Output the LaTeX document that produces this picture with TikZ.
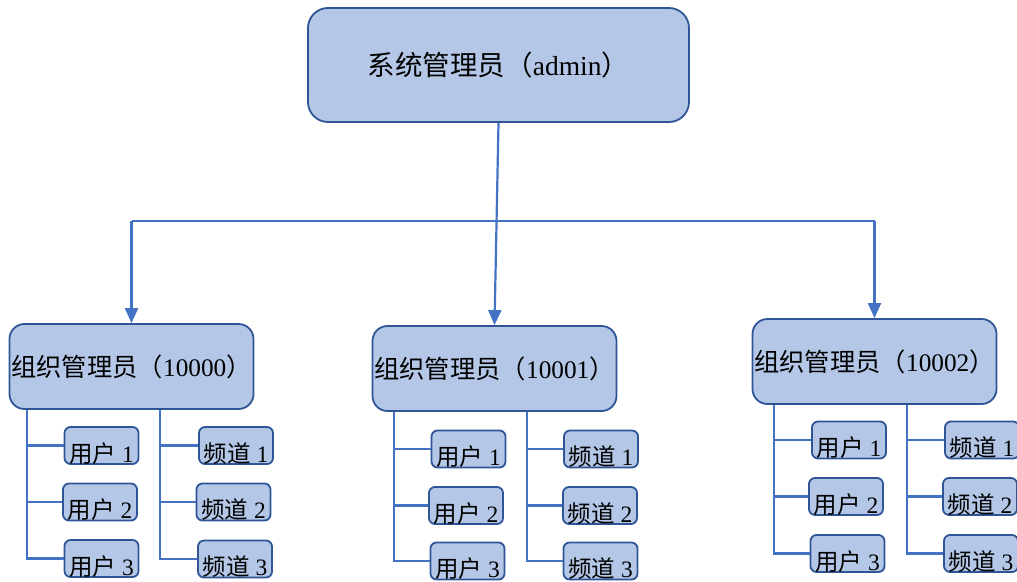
\documentclass[tikz,border=0pt]{standalone}
\usepackage{fontspec}
\setmainfont{Liberation Serif}
\newfontfamily\cjk{Noto Sans CJK SC}
\usetikzlibrary{arrows.meta,calc}
\definecolor{boxfill}{HTML}{B4C7E7}
\definecolor{boxline}{HTML}{2F5597}
\definecolor{connblue}{HTML}{4472C4}
\tikzset{
  topbox/.style={draw=boxline, fill=boxfill, line width=1.8pt, rounded corners=20pt, inner sep=0pt,
    minimum width=381pt, minimum height=114pt, font=\fontsize{27.5}{31}\selectfont},
  orgbox/.style={draw=boxline, fill=boxfill, line width=1.8pt, rounded corners=15pt, inner sep=0pt,
    minimum width=244pt, minimum height=85pt, font=\fontsize{25.3}{30}\selectfont},
  subbox/.style={draw=boxline, fill=boxfill, line width=1.8pt, rounded corners=6pt, inner sep=0pt,
    minimum width=74pt, minimum height=37pt, text height=34pt, text depth=1pt,
    font=\fontsize{23.5}{27}\selectfont},
  conn/.style={draw=connblue, line width=2.2pt},
  arr/.style={conn, -{Triangle[width=13pt,length=15pt]}, fill=connblue}
}
\newcommand{\usr}[1]{{\cjk 用户}\hspace{0.25em}#1}
\newcommand{\chn}[1]{{\cjk 频道}\hspace{0.25em}#1}
\newcommand{\orgtxt}[1]{{\cjk 组织管理员（}#1{\cjk ）}}
\begin{document}
\begin{tikzpicture}[x=1pt,y=-1pt]
\useasboundingbox (0,0) rectangle (1017,581);
\fill[white] (0,0) rectangle (1017,581);

\node[topbox] (top) at (498.5,65) {{\cjk 系统管理员（}admin{\cjk ）}};

\node[orgbox] (o1) at (131.5,366.5) {\orgtxt{10000}};
\node[orgbox] (o2) at (494.5,368.5) {\orgtxt{10001}};
\node[orgbox] (o3) at (874.5,361.5) {\orgtxt{10002}};

\coordinate (bus) at (0,221);
\draw[conn] (o1.north |- bus) -- (o3.north |- bus);
\draw[arr] (top.south) -- (o2.north);
\draw[arr] (o1.north |- bus) -- (o1.north);
\draw[arr] (o3.north |- bus) -- (o3.north);

% group 1
\node[subbox] (u11) at (101.5,445.5) {\usr{1}};
\node[subbox] (u12) at (100,502) {\usr{2}};
\node[subbox] (u13) at (101.5,558.5) {\usr{3}};
\node[subbox] (c11) at (236,445.5) {\chn{1}};
\node[subbox] (c12) at (233.5,502) {\chn{2}};
\node[subbox] (c13) at (235,559) {\chn{3}};
\coordinate (t1L) at (27,0);
\coordinate (t1R) at (160,0);
\draw[conn] (o1.south -| t1L) |- (u13.west);
\draw[conn] (u11.west -| t1L) -- (u11.west);
\draw[conn] (u12.west -| t1L) -- (u12.west);
\draw[conn] (o1.south -| t1R) |- (c13.west);
\draw[conn] (c11.west -| t1R) -- (c11.west);
\draw[conn] (c12.west -| t1R) -- (c12.west);

% group 2
\node[subbox] (u21) at (468.5,449) {\usr{1}};
\node[subbox] (u22) at (466,505.5) {\usr{2}};
\node[subbox] (u23) at (467.5,561) {\usr{3}};
\node[subbox] (c21) at (601,449) {\chn{1}};
\node[subbox] (c22) at (600,505.5) {\chn{2}};
\node[subbox] (c23) at (600.5,561) {\chn{3}};
\coordinate (t2L) at (394,0);
\coordinate (t2R) at (527,0);
\draw[conn] (o2.south -| t2L) |- (u23.west);
\draw[conn] (u21.west -| t2L) -- (u21.west);
\draw[conn] (u22.west -| t2L) -- (u22.west);
\draw[conn] (o2.south -| t2R) |- (c23.west);
\draw[conn] (c21.west -| t2R) -- (c21.west);
\draw[conn] (c22.west -| t2R) -- (c22.west);

% group 3
\node[subbox] (u31) at (849,440) {\usr{1}};
\node[subbox] (u32) at (846,496.5) {\usr{2}};
\node[subbox] (u33) at (847.5,553.5) {\usr{3}};
\node[subbox] (c31) at (982,440) {\chn{1}};
\node[subbox] (c32) at (980,496.5) {\chn{2}};
\node[subbox] (c33) at (981,553.5) {\chn{3}};
\coordinate (t3L) at (774,0);
\coordinate (t3R) at (907,0);
\draw[conn] (o3.south -| t3L) |- (u33.west);
\draw[conn] (u31.west -| t3L) -- (u31.west);
\draw[conn] (u32.west -| t3L) -- (u32.west);
\draw[conn] (o3.south -| t3R) |- (c33.west);
\draw[conn] (c31.west -| t3R) -- (c31.west);
\draw[conn] (c32.west -| t3R) -- (c32.west);
\end{tikzpicture}
\end{document}
